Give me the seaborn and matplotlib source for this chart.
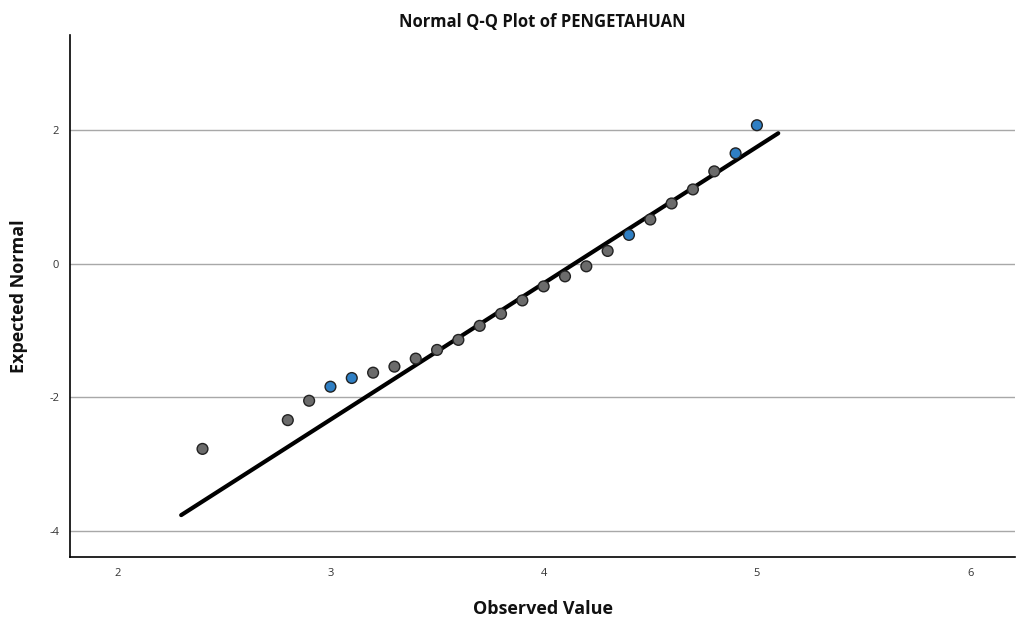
import numpy as np
import pandas as pd
import seaborn as sns
import matplotlib.pyplot as plt

observed = [2.4, 2.8, 2.9, 3.0, 3.1, 3.2, 3.3, 3.4, 3.5, 3.6, 3.7, 3.8,
            3.9, 4.0, 4.1, 4.2, 4.3, 4.4, 4.5, 4.6, 4.7, 4.8, 4.9, 5.0]
expected = [-2.77, -2.34, -2.05, -1.84, -1.71, -1.63, -1.54, -1.42, -1.29,
            -1.14, -0.93, -0.75, -0.55, -0.34, -0.19, -0.04, 0.19, 0.43,
            0.66, 0.90, 1.11, 1.38, 1.65, 2.07]
# points that show up blue in the picture
group = ["g", "g", "g", "b", "b", "g", "g", "g", "g", "g", "g", "g",
         "g", "g", "g", "g", "g", "b", "g", "g", "g", "g", "b", "b"]

# reference line ends
line_x = [2.3, 5.1]
line_y = [-3.76, 1.95]

y_ticks = [-4, -2, 0, 2]
x_ticks = [2, 3, 4, 5, 6]

df = pd.DataFrame({"Observed Value": observed, "Expected Normal": expected, "grp": group})

sns.set_style("white")
plt.rcParams["font.family"] = ["Open Sans", "DejaVu Sans"]
plt.rcParams["axes.unicode_minus"] = False

fig = plt.figure(figsize=(10.19, 6.24), dpi=100)
ax = fig.add_axes([0.069, 0.107, 0.927, 0.837])

for y in y_ticks:
    ax.axhline(y, color="#a8a8a8", lw=1.0, zorder=0)

sns.lineplot(x=line_x, y=line_y, ax=ax, color="black", lw=3, zorder=2)
sns.scatterplot(data=df, x="Observed Value", y="Expected Normal", hue="grp",
                palette={"g": "#6b6b6b", "b": "#2f7fc4"}, s=60,
                edgecolor="#222222", linewidth=1.0, legend=False, ax=ax, zorder=3)

ax.set_xlim(1.78, 6.21)
ax.set_ylim(-4.39, 3.42)
ax.set_xticks(x_ticks)
ax.set_yticks(y_ticks)
ax.tick_params(axis="both", length=0, labelsize=8, colors="#333333", pad=8)
ax.set_xlabel("Observed Value", fontsize=13, fontweight="bold", color="#111111")
ax.set_ylabel("Expected Normal", fontsize=13, fontweight="bold", color="#111111")
ax.xaxis.set_label_coords(0.5, -0.082)
ax.yaxis.set_label_coords(-0.045, 0.5)
ax.set_title("Normal Q-Q Plot of PENGETAHUAN", fontsize=12, fontweight="bold",
             color="#111111", pad=6)

for side in ["top", "right"]:
    ax.spines[side].set_visible(False)
for side in ["left", "bottom"]:
    ax.spines[side].set_color("black")
    ax.spines[side].set_linewidth(1.2)

plt.savefig("out.png", dpi=100)
